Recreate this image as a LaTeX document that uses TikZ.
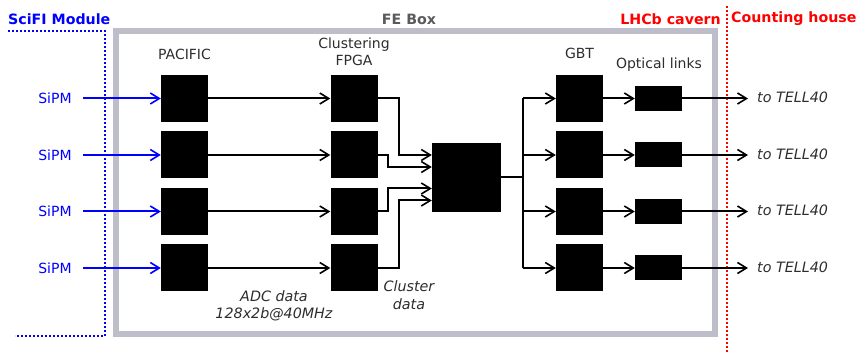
\documentclass[tikz,border=0pt]{standalone}
\usepackage{fontspec}
\setmainfont{DejaVu Sans}
\usetikzlibrary{arrows.meta}
\definecolor{boxgray}{RGB}{190,190,202}
\definecolor{txtgray}{RGB}{45,45,45}
\definecolor{titlegray}{RGB}{90,90,90}
\begin{document}
\begin{tikzpicture}[x=1pt,y=-1pt,
  blk/.style={fill=black,draw=none,inner sep=0pt,minimum width=47pt,minimum height=47pt},
  optblk/.style={fill=black,draw=none,inner sep=0pt,minimum width=47pt,minimum height=25pt},
  mrg/.style={fill=black,draw=none,inner sep=0pt,minimum width=69pt,minimum height=69pt},
  conn/.style={line width=2pt,-{Straight Barb[length=9pt,width=11pt,line width=1.6pt]}},
  plain/.style={line width=2pt},
  lbl/.style={font=\fontsize{14}{16.5}\selectfont,text=txtgray,inner sep=0pt,align=center},
  ilbl/.style={font=\fontsize{14.3}{17.5}\selectfont\itshape,text=txtgray,inner sep=0pt,align=center},
  ttl/.style={font=\fontsize{14.2}{16}\selectfont\bfseries,inner sep=0pt},
  bdot/.style={blue,line width=2pt,dash pattern=on 2pt off 2pt},
  rdot/.style={red,line width=2pt,dash pattern=on 2pt off 2pt}]
\useasboundingbox (0,0) rectangle (857,352);
% FE box
\draw[boxgray,line width=6pt] (116,31) rectangle (715,334);
% module boundary
\draw[bdot] (8,31) -- (105,31) -- (105,336) -- (15,336);
\draw[rdot] (727,6) -- (727,352);
% titles
\node[ttl,text=blue,anchor=west] (tmod) at (8,19) {SciFI Module};
\node[ttl,text=titlegray] (tfe) at (409,19) {FE Box};
\node[ttl,text=red,anchor=east] (tlhcb) at (721,19) {LHCb cavern};
\node[ttl,text=red,anchor=west] (tch) at (731,19) {Counting house};
% column labels
\node[lbl] (lpac) at (184.5,54) {PACIFIC};
\node[lbl] (lfpga) at (354,52) {Clustering\\FPGA};
\node[lbl] (lgbt) at (579.5,53) {GBT};
\node[lbl] (lopt) at (659,65) {Optical links};
% merger
\node[mrg] (m) at (466.5,177.5) {};
\coordinate (split) at (523,177.5);
\foreach \i/\y in {1/98.5,2/155,3/211.5,4/268}{
  \node[lbl,text=blue] (s\i) at (55,\y) {SiPM};
  \coordinate (sp\i) at (83,\y);
  \node[blk] (p\i) at (184.5,\y) {};
  \node[blk] (f\i) at (354,\y) {};
  \node[blk] (g\i) at (579.5,\y) {};
  \node[optblk] (o\i) at (658.5,\y) {};
  \coordinate (t\i) at (748,\y);
  \node[ilbl,anchor=west] (tt\i) at (757,\y-1) {to TELL40};
  \draw[conn,blue] (sp\i) -- (p\i);
  \draw[conn] (p\i) -- (f\i);
  \draw[conn] (split|-g\i) -- (g\i);
  \draw[conn] (g\i) -- (o\i);
  \draw[conn] (o\i) -- (t\i);
}
% FPGA to merger
\draw[conn] (f1.east) -| (399,155) -- (m.west|-0,155);
\draw[conn] (f2.east) -| (388,167) -- (m.west|-0,167);
\draw[conn] (f3.east) -| (388,188.5) -- (m.west|-0,188.5);
\draw[conn] (f4.east) -| (399,200.5) -- (m.west|-0,200.5);
% merger to GBT
\draw[plain] (m.east) -- (split);
\draw[plain] (split|-g1) -- (split|-g4);
% data labels
\node[ilbl] (ladc) at (274,306) {ADC data\\128x2b@40MHz};
\node[ilbl] (lcl) at (409,295) {Cluster\\data};
\end{tikzpicture}
\end{document}
